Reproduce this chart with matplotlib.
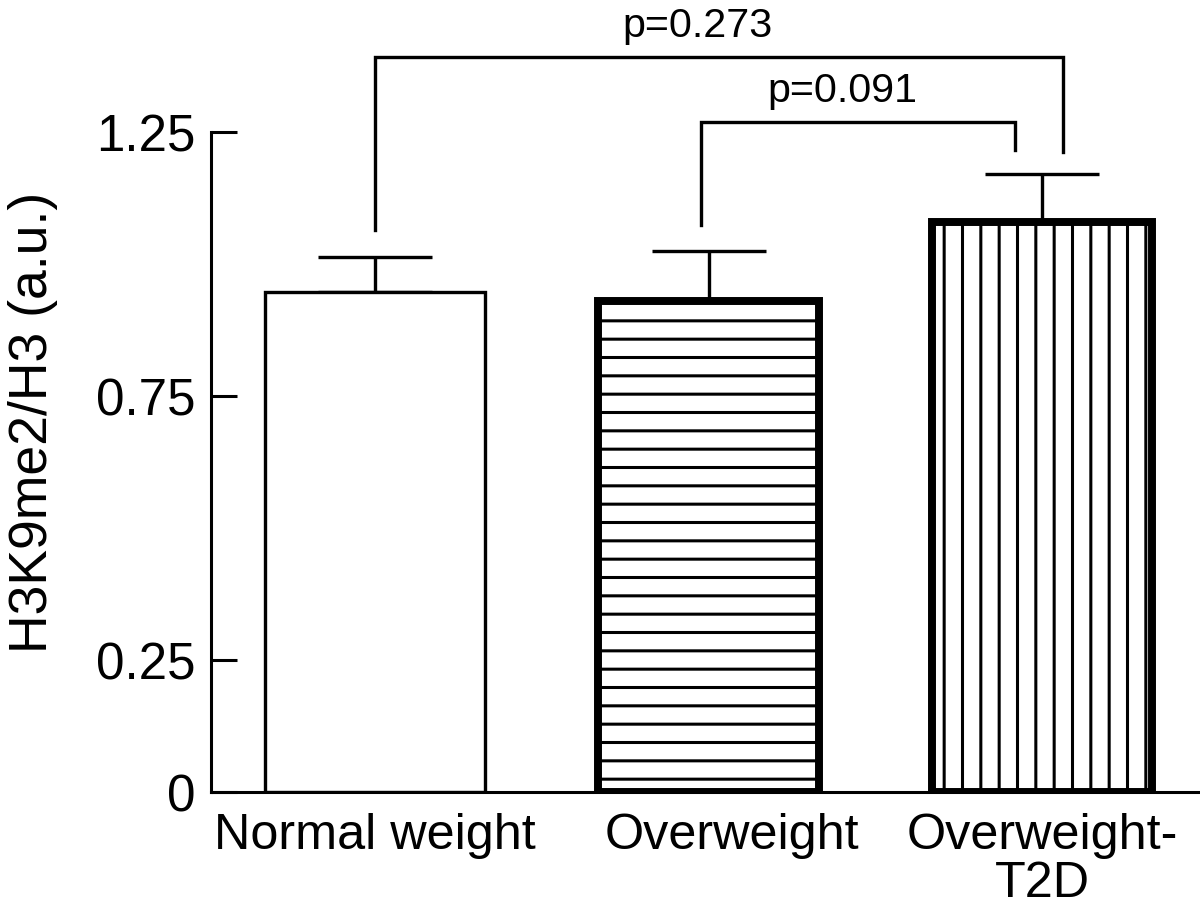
import matplotlib
matplotlib.use("Agg")
import matplotlib.pyplot as plt
import matplotlib.transforms as mtransforms

categories = ["Normal weight", "Overweight", "Overweight-\nT2D"]
means = [0.947, 0.930, 1.080]
errors = [0.066, 0.095, 0.090]
hatches = ["", "-", "|"]
edge_widths = [2.2, 5.2, 5.2]
yticks = [0, 0.25, 0.75, 1.25]
ytick_labels = ["0", "0.25", "0.75", "1.25"]
ylabel = "H3K9me2/H3 (a.u.)"
# significance brackets: (x_left, x_right, y_top, y_left_end, y_right_end, label, label_x)
brackets = [
    (0.0, 2.063, 1.392, 1.064, 1.212, "p=0.273", 0.966),
    (0.978, 1.919, 1.269, 1.074, 1.216, "p=0.091", 1.40),
]

DPI = 110
plt.rcParams["font.family"] = ["Liberation Sans", "DejaVu Sans"]
plt.rcParams["hatch.linewidth"] = 2.0
plt.rcParams["hatch.color"] = "black"

fig = plt.figure(figsize=(1200 / DPI, 923 / DPI), dpi=DPI)
ax = fig.add_axes([211 / 1200, (923 - 792) / 923, 1 - 211 / 1200, 792 / 923])

x = list(range(len(categories)))
for xi, m, e, h, lw in zip(x, means, errors, hatches, edge_widths):
    ax.bar(xi, m, width=0.66, facecolor="white", edgecolor="black",
           hatch=h, linewidth=lw, zorder=2)
    ax.errorbar(xi, m, yerr=[[0], [e]], fmt="none", ecolor="black",
                elinewidth=2.2, capsize=37, capthick=2.2, zorder=1)

for xl, xr, yt, yl, yr, lab, lx in brackets:
    ax.plot([xl, xl, xr, xr], [yl, yt, yt, yr], color="black", lw=2.2,
            solid_joinstyle="miter", clip_on=False)
    ax.text(lx, yt + 0.022, lab, ha="center", va="bottom", fontsize=27,
            clip_on=False)

ax.set_xlim(-0.492, 2.474)
ax.set_ylim(0, 1.5)
ax.spines["top"].set_visible(False)
ax.spines["right"].set_visible(False)
ax.spines["left"].set_bounds(0, 1.25)
ax.spines["left"].set_linewidth(2.0)
ax.spines["bottom"].set_linewidth(2.0)

ax.set_yticks(yticks)
ax.set_yticklabels(ytick_labels, fontsize=33.5)
ax.tick_params(axis="y", direction="in", length=17, width=2.0, pad=10)
ax.set_xticks(x)
ax.set_xticklabels(categories, fontsize=33, linespacing=1.05)
ax.tick_params(axis="x", length=0, pad=14)

# middle label sits slightly to the right in the reference
off = mtransforms.ScaledTranslation(23 / DPI, 0, fig.dpi_scale_trans)
mid = ax.get_xticklabels()[1]
mid.set_transform(mid.get_transform() + off)

ax.set_ylabel(ylabel, fontsize=35)
ax.yaxis.set_label_coords(-0.155, 0.467)

fig.savefig("out.png", dpi=DPI)
